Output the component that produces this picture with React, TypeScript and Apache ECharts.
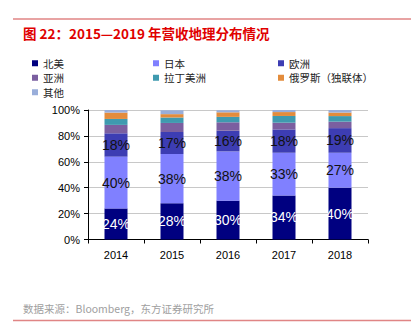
import React, { useEffect, useRef } from "react";
import * as echarts from "echarts";

const years = ["2014", "2015", "2016", "2017", "2018"];
const northAmerica = [24, 28, 30, 34, 40];
const japan = [40, 38, 38, 33, 27];
const europe = [18, 17, 16, 18, 19];
const asia = [6.5, 7, 6.5, 5.2, 5];
const latinAmerica = [4.6, 4.2, 4.2, 5.2, 4.3];
const russia = [4.9, 2.6, 3.5, 3, 2.7];
const others = [2, 3, 1.6, 1.6, 2];

const seriesNames = ["北美", "日本", "欧洲", "亚洲", "拉丁美洲", "俄罗斯（独联体）", "其他"];
const seriesData = [northAmerica, japan, europe, asia, latinAmerica, russia, others];
const colors = ["#000080", "#8080FF", "#3D3DB3", "#7B5FA0", "#3F9AAF", "#E38C3C", "#99AEDA"];

export default function App() {
  const ref = useRef<HTMLDivElement>(null);
  useEffect(() => {
    const chart = echarts.init(ref.current!, null, { renderer: "svg" });
    const legendBase = {
      orient: "vertical" as const,
      icon: "rect",
      itemWidth: 6,
      itemHeight: 6,
      itemGap: 4,
      top: 58,
      padding: 0,
      textStyle: { fontSize: 10.5, lineHeight: 10, color: "#222", fontFamily: "Noto Sans CJK SC" },
    };
    chart.setOption({
      animation: false,
      color: colors,
      textStyle: { fontFamily: "Liberation Sans" },
      graphic: [
        { type: "line", shape: { x1: 13, y1: 19, x2: 411, y2: 19 }, style: { stroke: "#E08585", lineWidth: 1.5 } },
        {
          type: "text",
          x: 23,
          y: 33,
          style: {
            text: "图 22：2015—2019 年营收地理分布情况",
            fill: "#E00000",
            font: "bold 13.5px 'Noto Sans CJK SC'",
            textVerticalAlign: "middle",
          },
        },
        {
          type: "text",
          x: 23,
          y: 308,
          style: {
            text: "数据来源：Bloomberg，东方证券研究所",
            fill: "#A0A0A0",
            font: "10.5px 'Noto Sans CJK SC'",
            textVerticalAlign: "middle",
          },
        },
        { type: "line", shape: { x1: 13, y1: 320.5, x2: 411, y2: 320.5 }, style: { stroke: "#E08585", lineWidth: 1.5 } },
      ],
      legend: [
        { ...legendBase, left: 32, data: [seriesNames[0], seriesNames[3], seriesNames[6]] },
        { ...legendBase, left: 153, data: [seriesNames[1], seriesNames[4]] },
        { ...legendBase, left: 278, data: [seriesNames[2], seriesNames[5]] },
      ],
      grid: { left: 88, right: 43, top: 110, bottom: 93.5, containLabel: false },
      xAxis: {
        type: "category",
        data: years,
        axisLine: { lineStyle: { color: "#000", width: 1 } },
        axisTick: { show: true, length: 4, lineStyle: { color: "#000" } },
        axisLabel: { color: "#000", fontSize: 11, margin: 10 },
      },
      yAxis: {
        type: "value",
        min: 0,
        max: 100,
        interval: 20,
        axisLine: { show: true, lineStyle: { color: "#000", width: 1 } },
        axisTick: { show: true, length: 4, lineStyle: { color: "#000" } },
        axisLabel: { color: "#000", fontSize: 11, margin: 8, formatter: "{value}%" },
        splitLine: { lineStyle: { color: "#C8C8C8" } },
      },
      series: seriesNames.map((name, i) => ({
        name,
        type: "bar",
        stack: "total",
        barWidth: 23,
        data: seriesData[i],
        itemStyle: { color: colors[i] },
        label: {
          show: i < 3,
          position: "inside",
          formatter: "{c}%",
          fontSize: 14,
          fontFamily: "Liberation Sans",
          color: i === 0 ? "#fff" : "#111",
        },
      })),
    });
    return () => chart.dispose();
  }, []);
  return <div ref={ref} style={{ position: "absolute", left: 0, top: 0, width: 411, height: 333, background: "#fff" }} />;
}
